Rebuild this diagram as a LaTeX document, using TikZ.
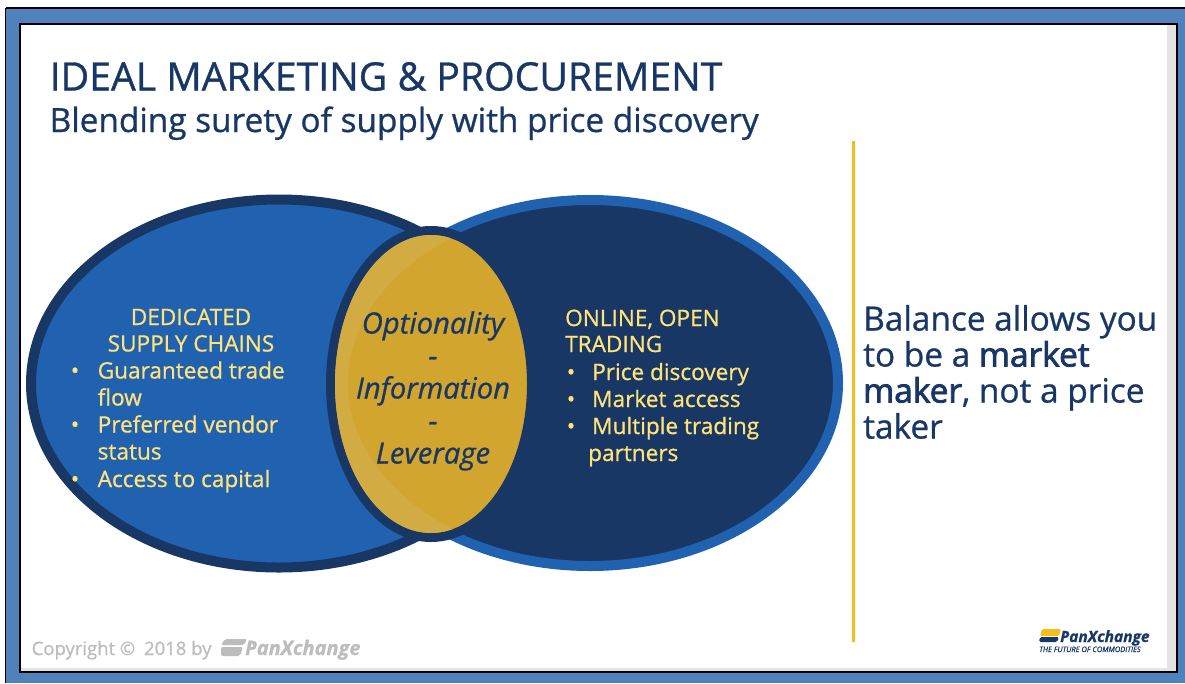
\documentclass[tikz,border=0pt]{standalone}
\usepackage{fontspec}
\setmainfont{Open Sans}[FakeBold=0.8]
\newfontfamily\semib{Open Sans}[FakeBold=2.4]
\definecolor{frameblue}{HTML}{4F81BD}
\definecolor{navy}{HTML}{183765}
\definecolor{midblue}{HTML}{2162B0}
\definecolor{gold}{HTML}{D2A52E}
\definecolor{lightgold}{HTML}{D2AC42}
\definecolor{ytext}{HTML}{FFE27A}
\definecolor{vline}{HTML}{F5BE1A}
\definecolor{copy}{HTML}{BDBDBD}
\definecolor{strip}{HTML}{E4E4E4}
\tikzset{
  ytxt/.style={text=ytext,font=\fontsize{22.6}{27}\selectfont,inner sep=0pt,anchor=base west},
  mid/.style={text=navy,font=\itshape\fontsize{29.2}{32}\selectfont,inner sep=0pt,anchor=base},
  side/.style={text=navy,font=\fontsize{33.4}{36}\selectfont,inner sep=0pt,anchor=base west}
}
\begin{document}
\begin{tikzpicture}[x=1pt,y=-1pt]
\useasboundingbox (0,0) rectangle (1185,683);
\fill[white] (0,0) rectangle (1185,683);
\fill[frameblue] (5,8) rectangle (1185,683);
\draw[black,line width=2.2pt] (5.5,8) -- (1185,8);
\draw[black,line width=1.6pt] (5.5,8) -- (5.5,683);
\fill[strip] (20,24) rectangle (1177,671.5);
\fill[white] (20,24) rectangle (1167,668);
\draw[black,line width=2pt] (20,671.5) -- (20,24) -- (1177,24) -- (1177,671.5) -- cycle;
% title
\node[inner sep=0pt,anchor=base west,text=navy,font=\fontsize{39.2}{42}\selectfont] (title) at (49.5,90.5) {IDEAL MARKETING \& PROCUREMENT};
\node[inner sep=0pt,anchor=base west,text=navy,font=\fontsize{33.35}{36}\selectfont] (subtitle) at (49.5,132) {Blending surety of supply with price discovery};
% venn
\path[fill=midblue,draw=navy,line width=10pt] (279,383.5) ellipse [x radius=248,y radius=184];
\path[fill=navy,draw=midblue,line width=10pt] (590,383) ellipse [x radius=248,y radius=183];
\path[fill=gold,draw=navy,line width=9pt] (431,384) ellipse [x radius=100.5,y radius=153.5];
\begin{scope}
\clip (431,384) ellipse [x radius=96,y radius=149];
\fill[lightgold,even odd rule] (320,180) rectangle (540,590) (590,383) ellipse [x radius=242,y radius=177];
\end{scope}
% left text
\node[ytxt,anchor=base] (d1) at (191,325) {DEDICATED};
\node[ytxt,anchor=base] (d2) at (191,351.5) {SUPPLY CHAINS};
\foreach \nm/\bx/\y/\t in {a/75/378.5/Guaranteed trade,c/75/432.5/Preferred vendor,e/75/487/Access to capital}{
  \node[ytxt,anchor=base] (bl\nm) at (\bx,\y) {•};
  \node[ytxt] (l\nm) at (97.5,\y) {\t};
}
\node[ytxt] (lb) at (97.5,405.5) {flow};
\node[ytxt] (ld) at (97.5,459.5) {status};
% middle
\node[mid] (m1) at (433,333.5) {Optionality};
\node[mid] (m2) at (433,366) {-};
\node[mid] (m3) at (433,398.5) {Information};
\node[mid] (m4) at (433,431) {-};
\node[mid] (m5) at (433,463.5) {Leverage};
% right text
\node[ytxt] (o1) at (565,326) {ONLINE, OPEN};
\node[ytxt] (o2) at (565,352) {TRADING};
\foreach \nm/\y/\t in {a/380/Price discovery,b/407/Market access,c/434/Multiple trading}{
  \node[ytxt,anchor=base] (br\nm) at (571,\y) {•};
  \node[ytxt] (r\nm) at (592,\y) {\t};
}
\node[ytxt] (rd) at (588,461) {partners};
% divider
\coordinate (vt) at (853.5,141);
\coordinate (vb) at (853.5,642);
\draw[vline,line width=2.6pt] (vt) -- (vb);
% side
\node[side] (s1) at (863,330.5) {Balance allows you};
\node[side] (s2) at (863,366.5) {to be a {\semib market}};
\node[side] (s3) at (863,402.5) {{\semib maker}, not a price};
\node[side] (s4) at (863,438.5) {taker};
% copyright
\node[inner sep=0pt,anchor=base west,text=copy,font=\fontsize{18.5}{22}\selectfont] (cr) at (31.5,655) {Copyright ©\hspace{4pt} 2018 by};
\fill[copy,rounded corners=2pt] (225,639) -- (247,639) -- (244,645) -- (221,645) -- cycle;
\fill[copy,rounded corners=2pt] (221,647) -- (243,647) -- (240,656) -- (221,656) -- cycle;
\node[inner sep=0pt,anchor=base west,text=copy,font=\bfseries\itshape\fontsize{20}{22}\selectfont] (cr2) at (245,655) {PanXchange};
% logo
\fill[vline,rounded corners=1.5pt] (1042,629) -- (1061,629) -- (1059,636) -- (1040,636) -- cycle;
\fill[navy,rounded corners=1.5pt] (1040,637) -- (1059,637) -- (1057,642) -- (1039,642) -- cycle;
\node[inner sep=0pt,anchor=base west,text=navy,font=\bfseries\itshape\fontsize{15.5}{18}\selectfont] (lg) at (1060,642) {PanXchange};
\node[inner sep=0pt,anchor=base west,text=navy,font=\itshape\fontsize{7.5}{8}\selectfont] (lg2) at (1039,652) {THE FUTURE OF COMMODITIES};
\end{tikzpicture}
\end{document}
